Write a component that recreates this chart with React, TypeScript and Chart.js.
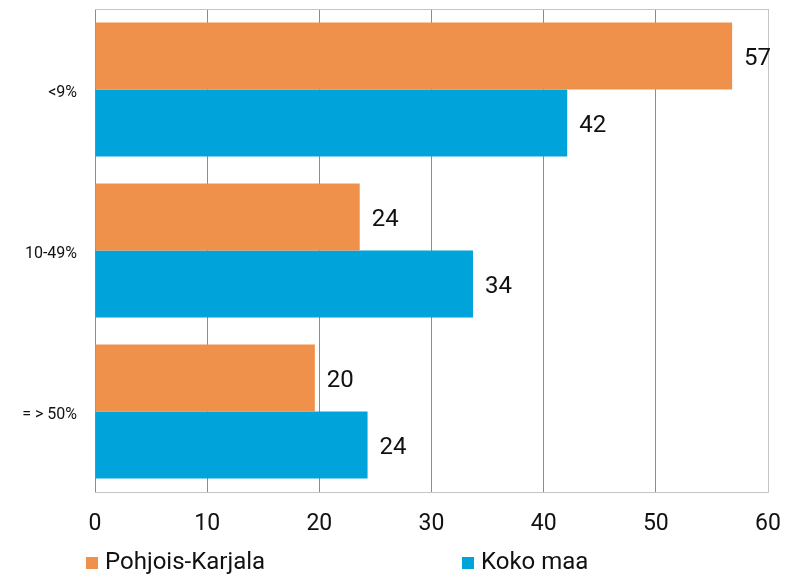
import React, { useEffect, useRef } from "react";
import { Chart, registerables } from "chart.js";

Chart.register(...registerables);

const categories = ["<9%", "10-49%", "= > 50%"];
const seriesNames = ["Pohjois-Karjala", "Koko maa"];
const pohjoisKarjala = [56.8, 23.6, 19.6];
const kokoMaa = [42.1, 33.7, 24.3];
const valueLabels = [
  ["57", "24", "20"],
  ["42", "34", "24"],
];
const xTicks = [0, 10, 20, 30, 40, 50, 60];
const colors = ["#F0914B", "#00A4DA"];
const FONT = "Roboto, 'DejaVu Sans', sans-serif";

const frame = {
  id: "frame",
  beforeDatasetsDraw(chart: any) {
    const { ctx, chartArea } = chart;
    ctx.save();
    ctx.strokeStyle = "#c4c4c4";
    ctx.lineWidth = 1;
    ctx.beginPath();
    ctx.moveTo(chartArea.left, chartArea.top + 0.5);
    ctx.lineTo(chartArea.right + 0.5, chartArea.top + 0.5);
    ctx.lineTo(chartArea.right + 0.5, chartArea.bottom + 0.5);
    ctx.lineTo(chartArea.left, chartArea.bottom + 0.5);
    ctx.stroke();
    ctx.restore();
  },
};

const labelsPlugin = {
  id: "valueLabels",
  afterDatasetsDraw(chart: any) {
    const { ctx } = chart;
    ctx.save();
    ctx.font = `24px ${FONT}`;
    ctx.fillStyle = "#111";
    ctx.textAlign = "left";
    ctx.textBaseline = "middle";
    chart.data.datasets.forEach((ds: any, di: number) => {
      const meta = chart.getDatasetMeta(di);
      meta.data.forEach((bar: any, i: number) => {
        ctx.fillText(valueLabels[di][i], bar.x + 12, bar.y + 3);
      });
    });
    ctx.restore();
  },
};

const legendPlugin = {
  id: "customLegend",
  afterDraw(chart: any) {
    const { ctx } = chart;
    const xs = [86, 462];
    ctx.save();
    ctx.font = `24px ${FONT}`;
    ctx.textBaseline = "alphabetic";
    ctx.textAlign = "left";
    chart.data.datasets.forEach((ds: any, i: number) => {
      ctx.fillStyle = ds.backgroundColor;
      ctx.fillRect(xs[i], 557, 12, 12);
      ctx.fillStyle = "#111";
      ctx.fillText(ds.label, xs[i] + 19, 569);
    });
    ctx.restore();
  },
};

function zeroPad(axis: any) {
  axis.paddingTop = 0;
  axis.paddingBottom = 0;
  axis.paddingLeft = 0;
  axis.paddingRight = 0;
}

export default function App() {
  const ref = useRef<HTMLCanvasElement>(null);
  useEffect(() => {
    if (!ref.current) return;
    const chart = new Chart(ref.current, {
      type: "bar",
      data: {
        labels: categories,
        datasets: [
          { label: seriesNames[0], data: pohjoisKarjala, backgroundColor: colors[0] },
          { label: seriesNames[1], data: kokoMaa, backgroundColor: colors[1] },
        ],
      },
      options: {
        indexAxis: "y",
        responsive: false,
        animation: false,
        layout: { padding: { top: 9, right: 24, left: 0, bottom: 0 } },
        datasets: { bar: { categoryPercentage: 0.833, barPercentage: 1 } },
        plugins: { legend: { display: false }, tooltip: { enabled: false } },
        scales: {
          x: {
            min: 0,
            max: 60,
            afterBuildTicks(axis: any) {
              axis.ticks = xTicks.map((v) => ({ value: v }));
            },
            afterFit(axis: any) {
              axis.height = 83;
              zeroPad(axis);
            },
            grid: {
              color: (c: any) => (c.tick && c.tick.value === 60 ? "#c4c4c4" : "#8c8c8c"),
              drawTicks: false,
            },
            border: { display: false },
            ticks: {
              color: "#111",
              font: { family: FONT, size: 23 },
              padding: 18,
              maxRotation: 0,
            },
          },
          y: {
            afterFit(axis: any) {
              axis.width = 95;
              zeroPad(axis);
            },
            grid: { display: false, drawTicks: false },
            border: { display: true, color: "#8c8c8c" },
            ticks: {
              color: "#111",
              font: { family: FONT, size: 16 },
              padding: 18,
              labelOffset: 3,
            },
          },
        },
      },
      plugins: [frame, labelsPlugin, legendPlugin],
    });
    return () => chart.destroy();
  }, []);
  return (
    <div style={{ position: "absolute", left: 0, top: 0, width: 792, height: 575 }}>
      <canvas ref={ref} width={792} height={575} />
    </div>
  );
}
